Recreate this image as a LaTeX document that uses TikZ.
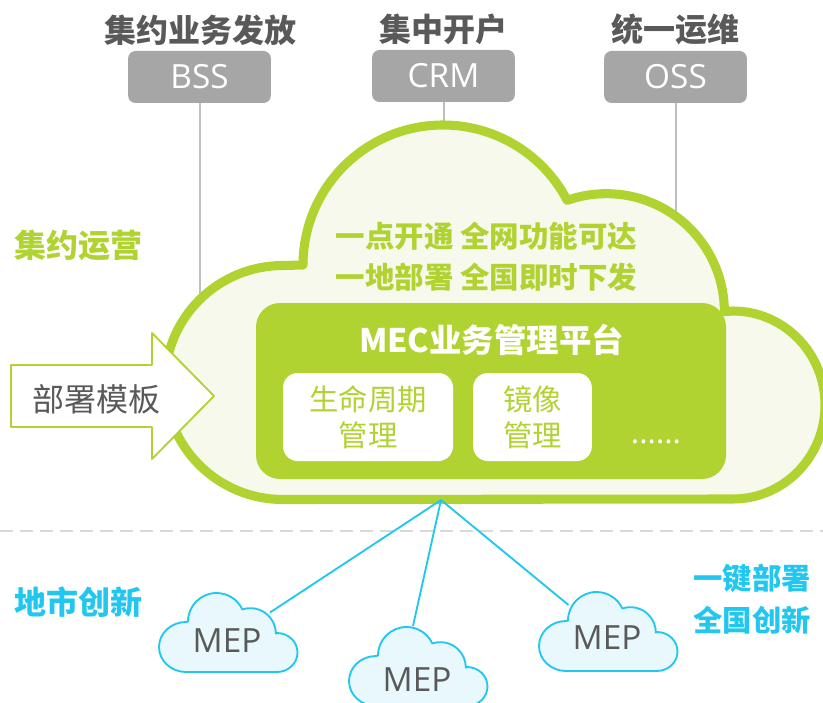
\documentclass[tikz,border=0pt]{standalone}
\usepackage{fontspec}
\setmainfont{Open Sans}
\newfontfamily\cjk{Noto Sans CJK SC}
\definecolor{ink}{HTML}{595959}
\definecolor{leaf}{HTML}{B1D332}
\definecolor{leafbg}{HTML}{F6F9EC}
\definecolor{sky}{HTML}{22C7F0}
\definecolor{skybg}{HTML}{E8F8FD}
\definecolor{slate}{HTML}{A6A6A6}
\definecolor{tap}{HTML}{BFBFBF}
\definecolor{rule}{HTML}{D9D9D9}
\usetikzlibrary{positioning}
\tikzset{
  every picture/.style={line join=round},
  every node/.style={inner sep=0pt, align=center},
  sysbox/.style={
    fill=slate,
    rounded corners=5.5pt,
    minimum width=107pt,
    minimum height=39pt,
    text=white,
    font=\fontsize{25}{30}\selectfont
  },
  head/.style={font=\cjk\bfseries\fontsize{24}{28}\selectfont, text=ink},
  greenhead/.style={font=\cjk\bfseries\fontsize{24}{28}\selectfont, text=leaf},
  slogan/.style={font=\cjk\bfseries\fontsize{22.1}{26}\selectfont, text=leaf},
  skyhead/.style={font=\cjk\bfseries\fontsize{24}{28}\selectfont, text=sky},
  skyslogan/.style={font=\cjk\bfseries\fontsize{22}{26}\selectfont, text=sky},
  platform/.style={
    fill=leaf,
    rounded corners=18pt,
    minimum width=352.5pt,
    minimum height=132pt
  },
  funcbox/.style={
    fill=white,
    rounded corners=11pt,
    minimum height=66pt,
    text=leaf,
    font=\cjk\fontsize{22}{27}\selectfont
  },
  tapline/.style={line width=1.5pt, draw=tap},
  link/.style={line width=1.4pt, draw=sky},
  bigcloud/.style={line width=6.8pt, draw=leaf, fill=leafbg},
  smallcloud/.style={line width=1.4pt, draw=sky, fill=skybg},
  tplarrow/.style={line width=1.4pt, draw=leaf, fill=white},
  meplabel/.style={font=\fontsize{25}{30}\selectfont, text=ink},
  pics/mepcloud/.style={code={
    \draw[smallcloud] (186,672) arc (90:270:27 and 25) -- (188,621.5)
      arc (180:335:28.5) arc (251.6:360:25.5) -- (277,633)
      arc (270:450:20.5 and 19.5) -- cycle;
  }}
}
\begin{document}
\begin{tikzpicture}[x=0.75pt, y=-0.75pt]
  \useasboundingbox (0,0) rectangle (823,702);
  \clip (0,0) rectangle (823,702);

  % Top systems
  \node[head] (bsshead) at (200,30) {集约业务发放};
  \node[head] (crmhead) at (443,29) {集中开户};
  \node[head] (osshead) at (675,29) {统一运维};
  \node[sysbox] (bss) at (199.5,77) {BSS};
  \node[sysbox] (crm) at (443.5,76) {CRM};
  \node[sysbox] (oss) at (675.5,77) {OSS};

  \coordinate (bssend) at (199.5,300);
  \coordinate (crmend) at (443.5,125);
  \coordinate (ossend) at (675.5,215);
  \draw[tapline] (bss) -- (bssend);
  \draw[tapline] (crm) -- (crmend);
  \draw[tapline] (oss) -- (ossend);

  % Dashed divider
  \draw[line width=1.5pt, draw=rule, dash pattern=on 10pt off 5pt] (0,531) -- (823,531);

  % Main cloud
  \draw[bigcloud] (283,499.5) arc (90:270:118 and 117) -- (303,265)
    arc (180:332.5:140) arc (250.6:360:118) -- (733,311)
    arc (270:450:92 and 94) -- cycle;

  \node[greenhead] (opslabel) at (78,245) {集约运营};
  \node[slogan] (sloganone) at (486.5,236) {一点开通 全网功能可达};
  \node[slogan] (slogantwo) at (486.5,277) {一地部署 全国即时下发};

  % Platform
  \node[platform] (mec) at (491,391) {};
  \node[font=\cjk\bfseries\fontsize{24.3}{28}\selectfont, text=white] (mectitle) at (491.5,340) {MEC业务管理平台};
  \node[funcbox, minimum width=127.5pt] (life) at (368,417) {生命周期\\管理};
  \node[funcbox, minimum width=89pt] (image) at (532.5,417) {镜像\\管理};
  \node[anchor=base, text=white, font=\fontsize{23.5}{28}\selectfont] (more) at (656,443) {......};

  % Template arrow
  \draw[tplarrow] (11,365) -- (152,365) -- (152,333) -- (214,396) -- (152,459)
    -- (152,427) -- (11,427) -- cycle;
  \node[font=\cjk\fontsize{24}{28}\selectfont, text=ink] (tpl) at (96.5,399) {部署模板};

  % Edge clouds
  \coordinate (hub) at (441,500);
  \coordinate (mepaend) at (270,612.5);
  \coordinate (mepbend) at (413,626);
  \coordinate (mepcend) at (568.5,605);
  \draw[link] (hub) -- (mepaend);
  \draw[link] (hub) -- (mepbend);
  \draw[link] (hub) -- (mepcend);

  \pic at (0,0) {mepcloud};
  \pic at (190,34) {mepcloud};
  \pic at (380,-1) {mepcloud};
  \node[meplabel] (mepa) at (227,641) {MEP};
  \node[meplabel] (mepb) at (417,680) {MEP};
  \node[meplabel] (mepc) at (607,638) {MEP};

  \node[skyhead] (citylabel) at (78,602) {地市创新};
  \node[skyslogan] (keyone) at (752,578) {一键部署};
  \node[skyslogan] (keytwo) at (752,620) {全国创新};
\end{tikzpicture}
\end{document}
